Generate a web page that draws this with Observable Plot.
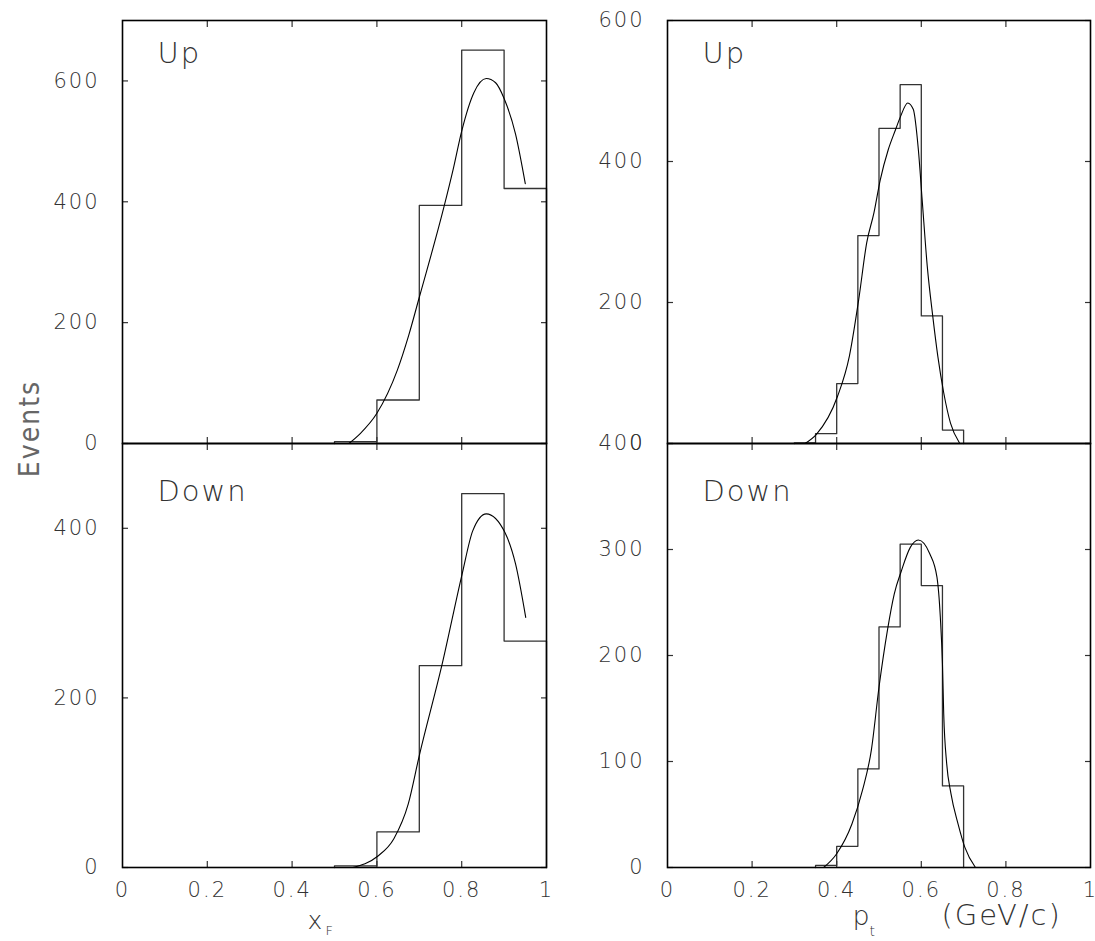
<!DOCTYPE html>
<html><head><meta charset="utf-8">
<script src="https://cdn.jsdelivr.net/npm/d3@7"></script>
<script src="https://cdn.jsdelivr.net/npm/@observablehq/plot@0.6"></script>
<style>
html,body{margin:0;padding:0;background:#fff;}
#chart{position:relative;width:1095px;height:941px;overflow:hidden;}
#chart svg{position:absolute;left:0;top:0;}
</style></head><body><div id="chart"></div>
<script>
// ---------- data ----------
const xfEdges = [0.5, 0.6, 0.7, 0.8, 0.9, 1.0];
const xfUpCounts = [3, 72, 394, 651, 422];
const xfDownCounts = [2, 42, 238, 441, 267];

const ptUpEdges = [0.30, 0.35, 0.40, 0.45, 0.50, 0.55, 0.60, 0.65, 0.70];
const ptUpCounts = [1, 14, 85, 295, 447, 509, 181, 19];
const ptDownEdges = [0.35, 0.40, 0.45, 0.50, 0.55, 0.60, 0.65, 0.70];
const ptDownCounts = [2, 20, 93, 227, 305, 266, 77];

const xfUpFitX = [0.534, 0.56, 0.6, 0.648, 0.675, 0.7, 0.758, 0.78, 0.8, 0.829, 0.858, 0.88, 0.9, 0.927, 0.95];
const xfUpFitY = [0, 16, 50, 121, 179, 242, 391, 454, 517, 581, 604, 597, 571, 512, 430];
const xfDownFitX = [0.543, 0.601, 0.640, 0.674, 0.700, 0.754, 0.801, 0.826, 0.858, 0.902, 0.927, 0.951];
const xfDownFitY = [0, 13, 34, 75, 132, 240, 346, 397, 417, 395, 358, 295];
const ptUpFitX = [0.325, 0.352, 0.402, 0.430, 0.452, 0.471, 0.488, 0.503, 0.522, 0.539, 0.551, 0.568, 0.581, 0.593, 0.602, 0.614, 0.627, 0.639, 0.653, 0.669, 0.690];
const ptUpFitY = [0, 13, 67, 124, 204, 285, 327, 374, 417, 445, 464, 483, 474, 417, 346, 252, 181, 124, 72, 29, 1];
const ptDownFitX = [0.369, 0.400, 0.436, 0.461, 0.482, 0.500, 0.520, 0.536, 0.553, 0.574, 0.593, 0.620, 0.637, 0.645, 0.650, 0.653, 0.660, 0.670, 0.687, 0.703, 0.728];
const ptDownFitY = [0, 13, 41, 73, 111, 170, 224, 258, 280, 302, 309, 296, 274, 236, 192, 145, 98, 70, 41, 19, 0];

const xTickValues = [0, 0.2, 0.4, 0.6, 0.8, 1];
const xTickLabels = ["0", "0.2", "0.4", "0.6", "0.8", "1"];
const xInnerTicks = [0.2, 0.4, 0.6, 0.8];

const yTicksXfUp = [0, 200, 400, 600];
const yTicksXfDown = [0, 200, 400];
const yTicksPtUp = [0, 200, 400, 600];
const yTicksPtDown = [0, 100, 200, 300, 400];

const tagUp = "Up";
const tagDown = "Down";
const yTitle = "Events";

// ---------- helpers ----------
const W = 1095, H = 941;

function stepData(edges, counts) {
  const pts = [{x: edges[0], y: 0}];
  counts.forEach((c, i) => pts.push({x: edges[i], y: c}));
  pts.push({x: edges[edges.length - 1], y: 0});
  return pts;
}
function fitData(xs, ys) { return xs.map((x, i) => ({x, y: ys[i]})); }

function panel(o) {
  const [x0, x1, y0, y1] = o.frame;
  const marks = [
    Plot.axisX(xInnerTicks, {anchor: "top", tickSize: -6, tickFormat: () => "", label: null, strokeWidth: 1.2}),
    Plot.axisX(xInnerTicks, {anchor: "bottom", tickSize: -6, tickFormat: () => "", label: null, strokeWidth: 1.2}),
    Plot.axisY(o.yTicks, {anchor: "left", tickSize: -6, tickFormat: () => "", label: null, strokeWidth: 1.2}),
    Plot.axisY(o.yTicks, {anchor: "right", tickSize: -6, tickFormat: () => "", label: null, strokeWidth: 1.2}),
    Plot.axisY(o.yTicks, {anchor: "left", tickSize: 0, tickPadding: 23, label: null, tickFormat: d => String(d)}),
    Plot.line(stepData(o.edges, o.counts), {x: "x", y: "y", curve: "step-after", stroke: "#333", strokeWidth: 1.3}),
    Plot.line(fitData(o.fitX, o.fitY), {x: "x", y: "y", curve: "monotone-x", stroke: "#000", strokeWidth: 1.1}),
    Plot.frame({stroke: "#000", strokeWidth: 1.6}),
    Plot.text([o.tag], {frameAnchor: "top-left", dx: 35, dy: o.tagDy, text: d => d, textAnchor: "start", lineAnchor: "top", fontSize: 29, fill: "#333"})
  ];
  if (o.xLabels) {
    marks.push(Plot.axisX(xTickValues, {anchor: "bottom", tickSize: 0, tickPadding: 15, label: null, tickFormat: d => xTickLabels[xTickValues.indexOf(d)]}));
  }
  if (o.extra) marks.push(...o.extra);
  return Plot.plot({
    width: W, height: H,
    marginLeft: x0, marginRight: W - x1, marginTop: y0, marginBottom: H - y1,
    x: {domain: [0, 1]},
    y: {domain: o.yDomain},
    style: {background: "transparent", fontFamily: "'DejaVu Sans', sans-serif", fontSize: "21px", color: "#333", letterSpacing: "2px", fontWeight: "200", overflow: "visible"},
    marks
  });
}

const chart = document.getElementById("chart");

chart.appendChild(panel({
  frame: [122, 546, 20, 443], yDomain: [0, 700], yTicks: yTicksXfUp,
  edges: xfEdges, counts: xfUpCounts, fitX: xfUpFitX, fitY: xfUpFitY, tag: tagUp, tagDy: 22,
  extra: [
    Plot.text([yTitle], {frameAnchor: "bottom-left", rotate: -90, dx: -84, dy: -15, text: d => d, textAnchor: "middle", lineAnchor: "bottom", fontSize: 28, fontFamily: "'DejaVu Sans Condensed', 'DejaVu Sans', sans-serif", fill: "#666", letterSpacing: "1px"})
  ]
}));
chart.appendChild(panel({
  frame: [122, 546, 443, 867], yDomain: [0, 500], yTicks: yTicksXfDown,
  edges: xfEdges, counts: xfDownCounts, fitX: xfDownFitX, fitY: xfDownFitY, tag: tagDown, tagDy: 37,
  xLabels: true,
  extra: [
    Plot.text(["x"], {frameAnchor: "bottom-left", dx: 185, dy: 61, text: d => d, textAnchor: "start", lineAnchor: "bottom", fontSize: 25, fill: "#333"}),
    Plot.text(["F"], {frameAnchor: "bottom-left", dx: 203, dy: 67, text: d => d, textAnchor: "start", lineAnchor: "bottom", fontSize: 13, fill: "#333"})
  ]
}));
chart.appendChild(panel({
  frame: [667, 1090, 20, 443], yDomain: [0, 600], yTicks: yTicksPtUp,
  edges: ptUpEdges, counts: ptUpCounts, fitX: ptUpFitX, fitY: ptUpFitY, tag: tagUp, tagDy: 22
}));
chart.appendChild(panel({
  frame: [667, 1090, 443, 867], yDomain: [0, 400], yTicks: yTicksPtDown,
  edges: ptDownEdges, counts: ptDownCounts, fitX: ptDownFitX, fitY: ptDownFitY, tag: tagDown, tagDy: 37,
  xLabels: true,
  extra: [
    Plot.text(["p"], {frameAnchor: "bottom-left", dx: 185, dy: 57, text: d => d, textAnchor: "start", lineAnchor: "bottom", fontSize: 27, fill: "#333"}),
    Plot.text(["t"], {frameAnchor: "bottom-left", dx: 202, dy: 68, text: d => d, textAnchor: "start", lineAnchor: "bottom", fontSize: 14, fill: "#333"}),
    Plot.text(["(GeV/c)"], {frameAnchor: "bottom-left", dx: 274, dy: 57, text: d => d, textAnchor: "start", lineAnchor: "bottom", fontSize: 29, fill: "#333", letterSpacing: "6px"})
  ]
}));
</script></body></html>
